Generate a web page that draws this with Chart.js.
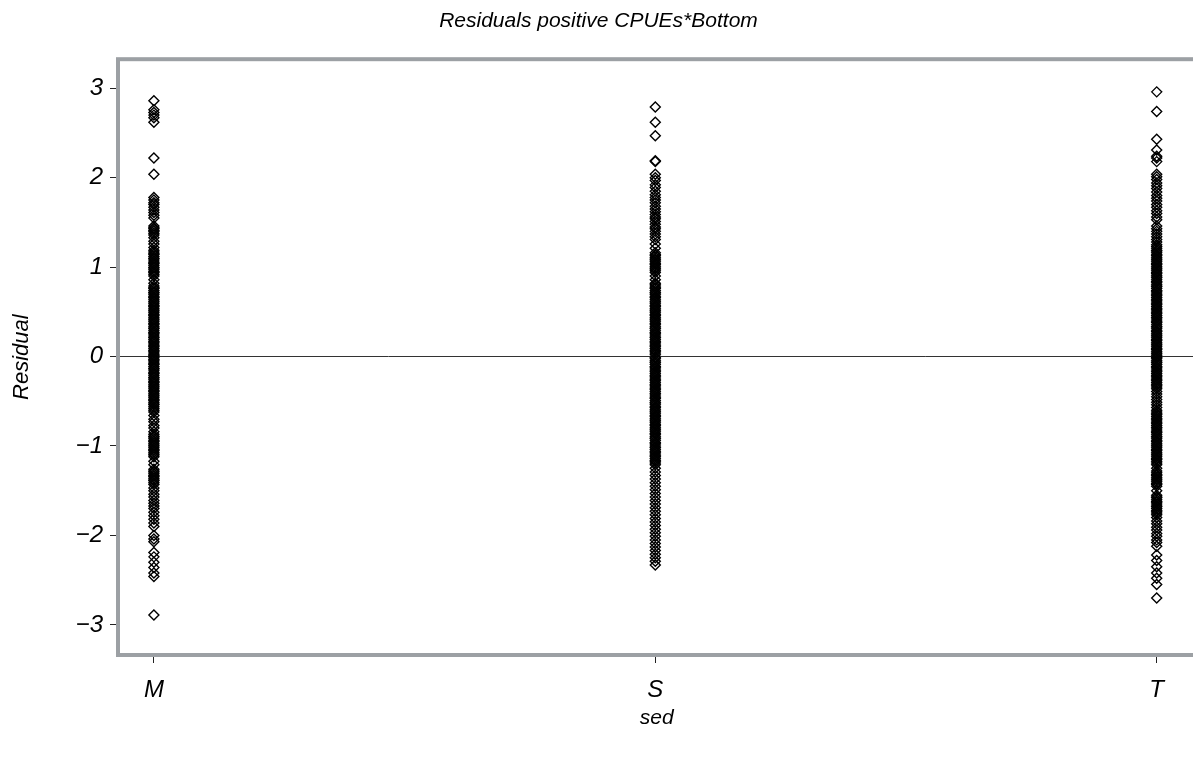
<!DOCTYPE html>
<html>
<head>
<meta charset="utf-8">
<script src="https://cdn.jsdelivr.net/npm/chart.js@4"></script>
<style>
  html, body { margin: 0; padding: 0; background: #fff; overflow: hidden; }
  #chart { display: block; }
</style>
</head>
<body>
<canvas id="chart" width="1200" height="758"></canvas>
<script>
const categories = ["M", "S", "T"];
const yTicks = [-3, -2, -1, 0, 1, 2, 3];

// residuals, one list per sediment class
const residM = [
  2.86, 2.76, 2.73, 2.70, 2.67, 2.62, 2.22, 2.04,
  1.78, 1.75, 1.72, 1.70, 1.67, 1.64, 1.61, 1.58, 1.55,
  1.46, 1.44, 1.43, 1.41, 1.40, 1.38, 1.36, 1.33, 1.29, 1.26, 1.22, 1.19,
  1.17, 1.15, 1.14, 1.12, 1.10, 1.09, 1.07, 1.05, 1.04, 1.02, 1.00, 0.99, 0.97, 0.95, 0.94, 0.92, 0.90,
  0.86, 0.82,
  0.79, 0.77, 0.76, 0.74, 0.72, 0.71, 0.69, 0.67, 0.66, 0.64, 0.62, 0.61, 0.59, 0.57, 0.56, 0.54,
  0.52, 0.51, 0.49, 0.47, 0.46, 0.44, 0.42, 0.41, 0.39, 0.37, 0.36, 0.34, 0.32, 0.31, 0.29, 0.27,
  0.26, 0.24, 0.22, 0.21, 0.19, 0.17, 0.16, 0.14, 0.12, 0.11, 0.09, 0.07, 0.06, 0.04, 0.02, 0.01,
  -0.01, -0.03, -0.04, -0.06, -0.08, -0.09, -0.11, -0.13, -0.14, -0.16, -0.18, -0.19, -0.21, -0.23,
  -0.24, -0.26, -0.28, -0.29, -0.31, -0.33, -0.34, -0.36, -0.38, -0.39, -0.41, -0.43, -0.44, -0.46,
  -0.48, -0.49, -0.51, -0.53, -0.54, -0.56, -0.58, -0.60, -0.62,
  -0.66, -0.70, -0.73, -0.77, -0.80, -0.84,
  -0.87, -0.89, -0.90, -0.92, -0.94, -0.95, -0.97, -0.99, -1.00, -1.02, -1.04, -1.05, -1.07, -1.09, -1.10, -1.12,
  -1.17, -1.21,
  -1.26, -1.28, -1.29, -1.31, -1.33, -1.34, -1.36, -1.38, -1.39, -1.41, -1.43,
  -1.47, -1.50, -1.54, -1.57, -1.61, -1.64, -1.67, -1.70, -1.74, -1.78, -1.82, -1.86, -1.90,
  -2.00, -2.04, -2.07, -2.19, -2.24, -2.30, -2.36, -2.42, -2.46,
  -2.89
];

const residS = [
  2.79, 2.62, 2.47, 2.19, 2.18, 2.04, 2.00, 1.97,
  1.92, 1.89, 1.85, 1.81, 1.78, 1.75, 1.72, 1.68, 1.65, 1.62,
  1.59, 1.56, 1.54, 1.51, 1.48, 1.45, 1.43, 1.40, 1.37, 1.34, 1.31, 1.26, 1.21,
  1.16, 1.14, 1.13, 1.11, 1.09, 1.08, 1.06, 1.04, 1.03, 1.01, 0.99, 0.98, 0.96, 0.94,
  0.90, 0.86,
  0.82, 0.81, 0.79, 0.77, 0.76, 0.74, 0.72, 0.71, 0.69, 0.67, 0.66, 0.64, 0.62, 0.61, 0.59, 0.57,
  0.56, 0.54, 0.52, 0.51, 0.49, 0.47, 0.46, 0.44, 0.42, 0.41, 0.39, 0.37, 0.36, 0.34, 0.32, 0.31,
  0.29, 0.27, 0.26, 0.24, 0.22, 0.21, 0.19, 0.17, 0.16, 0.14, 0.12, 0.11, 0.09, 0.07, 0.06, 0.04, 0.02,
  -0.01, -0.02, -0.04, -0.06, -0.07, -0.09, -0.11, -0.12, -0.14, -0.16, -0.17, -0.19, -0.21, -0.22,
  -0.24, -0.26, -0.27, -0.29, -0.31, -0.32, -0.34, -0.36, -0.37, -0.39, -0.41, -0.42, -0.44, -0.46,
  -0.47, -0.49, -0.51, -0.52, -0.54, -0.56, -0.57, -0.59, -0.61, -0.62, -0.64, -0.66, -0.67, -0.69,
  -0.71, -0.72, -0.74, -0.76, -0.77, -0.79, -0.81, -0.82, -0.84, -0.86, -0.87, -0.89, -0.91, -0.92,
  -0.94, -0.96, -0.97, -0.99, -1.01, -1.02, -1.04, -1.06, -1.07, -1.09, -1.11, -1.12, -1.14, -1.16,
  -1.17, -1.19, -1.21,
  -1.25, -1.29, -1.33, -1.37, -1.41, -1.45, -1.49, -1.53, -1.57, -1.61, -1.65, -1.69, -1.73, -1.77,
  -1.81, -1.85, -1.89, -1.93, -1.97, -2.01, -2.05, -2.09, -2.13, -2.17, -2.21, -2.25, -2.29, -2.33
];

const residT = [
  2.96, 2.74, 2.43, 2.31, 2.24, 2.22, 2.18,
  2.04, 2.01, 1.98, 1.94, 1.91, 1.88, 1.84, 1.80, 1.77, 1.74, 1.70, 1.67, 1.63, 1.60, 1.56, 1.53,
  1.46, 1.43, 1.40, 1.37, 1.34, 1.31, 1.28, 1.25, 1.23,
  1.21, 1.19, 1.18, 1.16, 1.14, 1.13, 1.11, 1.09, 1.08, 1.06, 1.04, 1.03, 1.01, 0.99, 0.98, 0.96,
  0.94, 0.93, 0.91, 0.89, 0.88, 0.86, 0.84, 0.83, 0.81, 0.79, 0.78, 0.76, 0.74, 0.73, 0.71, 0.69,
  0.68, 0.66, 0.64, 0.63, 0.61, 0.59, 0.58, 0.56, 0.54, 0.53, 0.51, 0.49, 0.48, 0.46, 0.44, 0.43,
  0.41, 0.39, 0.38, 0.36, 0.34, 0.33, 0.31, 0.29, 0.28, 0.26, 0.24, 0.23, 0.21, 0.19, 0.18, 0.16,
  0.14, 0.13, 0.11, 0.09, 0.08, 0.06, 0.04, 0.03, 0.01,
  -0.01, -0.02, -0.04, -0.06, -0.07, -0.09, -0.11, -0.12, -0.14, -0.16, -0.17, -0.19, -0.21, -0.22,
  -0.24, -0.26, -0.27, -0.29, -0.31, -0.32, -0.34, -0.36, -0.39, -0.42, -0.45, -0.48, -0.51, -0.54,
  -0.57, -0.60, -0.62, -0.64, -0.65, -0.67, -0.69, -0.70, -0.72, -0.74, -0.75, -0.77, -0.79, -0.80,
  -0.82, -0.84, -0.85, -0.87, -0.89, -0.90, -0.92, -0.94, -0.95, -0.97, -0.99, -1.00, -1.02, -1.04,
  -1.05, -1.07, -1.09, -1.10, -1.12, -1.14, -1.15, -1.17, -1.19, -1.21,
  -1.25, -1.28,
  -1.30, -1.32, -1.33, -1.35, -1.37, -1.38, -1.40, -1.42, -1.43, -1.45,
  -1.50,
  -1.55, -1.57, -1.58, -1.60, -1.62, -1.63, -1.65, -1.67, -1.68, -1.70, -1.72, -1.73, -1.75, -1.77,
  -1.80, -1.84, -1.87, -1.91, -1.94, -1.98, -2.01, -2.05, -2.08, -2.12,
  -2.22, -2.28, -2.35, -2.42, -2.48, -2.55,
  -2.70
];

const seriesList = [residM, residS, residT];

const FONT = "'Liberation Sans', Arial, sans-serif";
const FRAME = "#9ca0a4";

const frameBox = {
  id: "frameBox",
  afterDraw(chart) {
    const { ctx, chartArea: a } = chart;
    ctx.save();
    ctx.strokeStyle = FRAME;
    ctx.lineWidth = 4;
    ctx.strokeRect(a.left - 2, a.top - 2, a.right - a.left + 4, a.bottom - a.top + 4);
    ctx.restore();
  }
};

const datasets = seriesList.map((vals, i) => ({
  label: categories[i],
  data: vals.map(v => ({ x: i, y: v })),
  pointStyle: "rectRot",
  pointRadius: 5,
  pointBorderWidth: 1.4,
  pointBorderColor: "#000",
  pointBackgroundColor: "rgba(0,0,0,0)",
  showLine: false
}));

new Chart(document.getElementById("chart"), {
  type: "scatter",
  data: { datasets },
  plugins: [frameBox],
  options: {
    responsive: false,
    animation: false,
    layout: { padding: { left: 0, right: 3, top: 0, bottom: 0 } },
    plugins: {
      legend: { display: false },
      tooltip: { enabled: false },
      title: {
        display: true,
        text: "Residuals positive CPUEs*Bottom",
        color: "#000",
        font: { family: FONT, size: 21, style: "italic", weight: "normal" },
        padding: { top: 9, bottom: 27 }
      }
    },
    scales: {
      x: {
        type: "linear",
        min: -0.0676,
        max: 2.0736,
        afterFit: s => { s.height = 105; },
        afterBuildTicks: s => { s.ticks = categories.map((c, i) => ({ value: i })); },
        ticks: {
          color: "#000",
          padding: 13,
          font: { family: FONT, size: 24, style: "italic" },
          callback: v => categories[v] ?? ""
        },
        grid: {
          drawOnChartArea: false,
          drawTicks: true,
          tickLength: 10,
          tickColor: "#222",
          tickWidth: 1
        },
        border: { display: false },
        title: {
          display: true,
          text: "sed",
          color: "#000",
          font: { family: FONT, size: 21, style: "italic" },
          padding: { top: 4, bottom: 27 }
        }
      },
      y: {
        min: -3.315,
        max: 3.303,
        afterFit: s => { s.width = 120; },
        afterBuildTicks: s => { s.ticks = yTicks.map(v => ({ value: v })); },
        ticks: {
          color: "#000",
          padding: 7,
          font: { family: FONT, size: 24, style: "italic" },
          callback: v => String(v).replace("-", "\u2212")
        },
        grid: {
          drawTicks: true,
          tickLength: 10,
          tickColor: "#222",
          tickWidth: 1,
          lineWidth: 1,
          color: c => (c.tick && c.tick.value === 0 ? "#333" : "rgba(0,0,0,0)")
        },
        border: { display: false },
        title: {
          display: true,
          text: "Residual",
          color: "#000",
          font: { family: FONT, size: 22, style: "italic" },
          padding: { top: 9, bottom: 0 }
        }
      }
    }
  }
});
</script>
</body>
</html>
